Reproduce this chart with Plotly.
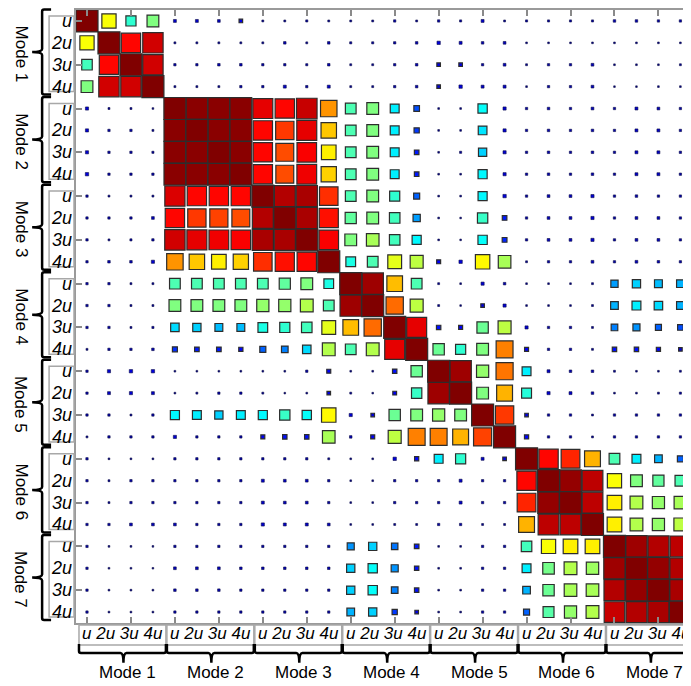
import plotly.graph_objects as go

# ---------------- data ----------------
modes = ["Mode 1", "Mode 2", "Mode 3", "Mode 4", "Mode 5", "Mode 6", "Mode 7"]
harmonics = ["u", "2u", "3u", "4u"]

m1_u  = [1.0, 0.62, 0.42, 0.5, 0.07, 0.07, 0.06, 0.1, 0.02, 0.02, 0.03, 0.02, 0.02, 0.02, 0.04, 0.02, 0.04, 0.03, 0.07, 0.02, 0.03, 0.03, 0.03, 0.03, 0.05, 0.05, 0.04, 0.04]
m1_2u = [0.62, 1.0, 0.87, 0.92, 0.02, 0.02, 0.02, 0.02, 0.02, 0.05, 0.02, 0.05, 0.03, 0.03, 0.04, 0.05, 0.09, 0.07, 0.05, 0.06, 0.01, 0.01, 0.01, 0.01, 0.01, 0.01, 0.01, 0.01]
m1_3u = [0.44, 0.87, 1.0, 0.92, 0.04, 0.04, 0.05, 0.05, 0.04, 0.04, 0.03, 0.05, 0.02, 0.02, 0.04, 0.05, 0.1, 0.1, 0.04, 0.06, 0.02, 0.04, 0.04, 0.06, 0.01, 0.01, 0.01, 0.02]
m1_4u = [0.5, 0.92, 0.92, 1.0, 0.02, 0.02, 0.02, 0.04, 0.04, 0.07, 0.04, 0.07, 0.02, 0.02, 0.04, 0.05, 0.1, 0.09, 0.07, 0.07, 0.01, 0.04, 0.04, 0.06, 0.005, 0.005, 0.01, 0.01]
m2_u  = [0.08, 0.02, 0.02, 0.01, 1.0, 0.99, 0.99, 0.99, 0.9, 0.87, 0.93, 0.73, 0.45, 0.5, 0.36, 0.2, 0.01, 0.01, 0.38, 0.08, 0.04, 0.05, 0.04, 0.06, 0.04, 0.07, 0.06, 0.04]
m2_2u = [0.08, 0.04, 0.04, 0.02, 0.99, 1.0, 0.99, 0.99, 0.87, 0.82, 0.9, 0.68, 0.45, 0.5, 0.36, 0.18, 0.01, 0.01, 0.35, 0.08, 0.04, 0.05, 0.04, 0.05, 0.04, 0.07, 0.07, 0.04]
m2_3u = [0.08, 0.04, 0.04, 0.03, 0.99, 0.99, 1.0, 0.99, 0.87, 0.8, 0.88, 0.64, 0.45, 0.5, 0.36, 0.15, 0.01, 0.03, 0.33, 0.08, 0.04, 0.05, 0.04, 0.05, 0.04, 0.07, 0.07, 0.04]
m2_4u = [0.09, 0.04, 0.04, 0.04, 0.99, 0.99, 0.99, 1.0, 0.87, 0.8, 0.89, 0.67, 0.45, 0.5, 0.36, 0.15, 0.01, 0.01, 0.37, 0.08, 0.04, 0.05, 0.04, 0.05, 0.04, 0.07, 0.07, 0.04]
m3_u  = [0.04, 0.02, 0.02, 0.02, 0.91, 0.87, 0.87, 0.87, 1.0, 0.95, 0.96, 0.83, 0.45, 0.5, 0.42, 0.22, 0.01, 0.01, 0.37, 0.09, 0.04, 0.06, 0.06, 0.08, 0.04, 0.05, 0.04, 0.04]
m3_2u = [0.04, 0.04, 0.04, 0.06, 0.87, 0.82, 0.81, 0.8, 0.95, 1.0, 0.96, 0.86, 0.47, 0.5, 0.44, 0.28, 0.01, 0.005, 0.43, 0.15, 0.04, 0.06, 0.06, 0.08, 0.04, 0.06, 0.06, 0.04]
m3_3u = [0.04, 0.02, 0.03, 0.04, 0.92, 0.9, 0.89, 0.88, 0.96, 0.96, 1.0, 0.88, 0.5, 0.54, 0.44, 0.37, 0.01, 0.005, 0.38, 0.16, 0.04, 0.06, 0.06, 0.08, 0.04, 0.06, 0.06, 0.04]
m3_4u = [0.04, 0.05, 0.05, 0.08, 0.73, 0.68, 0.64, 0.67, 0.83, 0.86, 0.87, 1.0, 0.4, 0.45, 0.6, 0.56, 0.12, 0.09, 0.63, 0.54, 0.02, 0.04, 0.04, 0.06, 0.04, 0.06, 0.05, 0.04]
m4_u  = [0.04, 0.04, 0.02, 0.02, 0.45, 0.45, 0.45, 0.45, 0.45, 0.47, 0.5, 0.4, 1.0, 0.97, 0.69, 0.45, 0.02, 0.01, 0.08, 0.05, 0.01, 0.01, 0.01, 0.02, 0.28, 0.33, 0.31, 0.3]
m4_2u = [0.04, 0.04, 0.02, 0.02, 0.5, 0.5, 0.5, 0.5, 0.52, 0.52, 0.55, 0.45, 0.97, 1.0, 0.77, 0.56, 0.02, 0.005, 0.1, 0.08, 0.01, 0.01, 0.01, 0.02, 0.3, 0.36, 0.34, 0.3]
m4_3u = [0.04, 0.04, 0.02, 0.03, 0.34, 0.33, 0.31, 0.31, 0.4, 0.42, 0.44, 0.6, 0.69, 0.77, 1.0, 0.9, 0.14, 0.12, 0.48, 0.56, 0.08, 0.04, 0.04, 0.02, 0.25, 0.27, 0.22, 0.2]
m4_4u = [0.02, 0.04, 0.04, 0.05, 0.17, 0.15, 0.15, 0.13, 0.22, 0.25, 0.34, 0.55, 0.45, 0.55, 0.9, 1.0, 0.48, 0.42, 0.5, 0.75, 0.12, 0.04, 0.04, 0.02, 0.14, 0.14, 0.13, 0.1]
m5_u  = [0.04, 0.08, 0.09, 0.09, 0.01, 0.01, 0.01, 0.01, 0.01, 0.01, 0.04, 0.12, 0.01, 0.01, 0.14, 0.48, 1.0, 0.97, 0.52, 0.76, 0.36, 0.07, 0.05, 0.05, 0.02, 0.01, 0.01, 0.02]
m5_2u = [0.04, 0.07, 0.08, 0.07, 0.01, 0.02, 0.04, 0.04, 0.02, 0.005, 0.01, 0.1, 0.02, 0.005, 0.11, 0.43, 0.97, 1.0, 0.5, 0.7, 0.41, 0.08, 0.07, 0.05, 0.01, 0.01, 0.02, 0.03]
m5_3u = [0.04, 0.04, 0.02, 0.04, 0.37, 0.36, 0.33, 0.36, 0.37, 0.43, 0.38, 0.63, 0.08, 0.1, 0.48, 0.5, 0.52, 0.5, 1.0, 0.82, 0.1, 0.04, 0.04, 0.02, 0.04, 0.04, 0.04, 0.04]
m5_4u = [0.02, 0.04, 0.04, 0.04, 0.08, 0.04, 0.04, 0.04, 0.12, 0.14, 0.14, 0.54, 0.05, 0.12, 0.56, 0.75, 0.75, 0.7, 0.81, 1.0, 0.13, 0.04, 0.04, 0.02, 0.04, 0.04, 0.04, 0.04]
m6_u  = [0.04, 0.01, 0.01, 0.01, 0.04, 0.04, 0.04, 0.04, 0.04, 0.04, 0.04, 0.02, 0.01, 0.01, 0.09, 0.13, 0.36, 0.42, 0.07, 0.1, 1.0, 0.87, 0.84, 0.7, 0.45, 0.36, 0.3, 0.22]
m6_2u = [0.04, 0.02, 0.04, 0.04, 0.04, 0.04, 0.04, 0.04, 0.07, 0.06, 0.06, 0.04, 0.01, 0.01, 0.04, 0.04, 0.04, 0.07, 0.04, 0.04, 0.87, 1.0, 0.98, 0.94, 0.62, 0.5, 0.47, 0.45]
m6_3u = [0.04, 0.02, 0.04, 0.04, 0.04, 0.04, 0.04, 0.04, 0.07, 0.06, 0.06, 0.04, 0.01, 0.01, 0.04, 0.04, 0.04, 0.07, 0.04, 0.04, 0.84, 0.98, 1.0, 0.94, 0.64, 0.55, 0.52, 0.54]
m6_4u = [0.04, 0.04, 0.06, 0.06, 0.06, 0.04, 0.04, 0.04, 0.08, 0.07, 0.07, 0.06, 0.01, 0.01, 0.02, 0.02, 0.04, 0.04, 0.02, 0.02, 0.7, 0.94, 0.94, 1.0, 0.64, 0.55, 0.52, 0.56]
m7_u  = [0.04, 0.01, 0.01, 0.005, 0.04, 0.04, 0.04, 0.04, 0.04, 0.04, 0.04, 0.04, 0.27, 0.33, 0.24, 0.15, 0.01, 0.01, 0.04, 0.04, 0.44, 0.62, 0.64, 0.64, 1.0, 0.97, 0.95, 0.94]
m7_2u = [0.04, 0.01, 0.01, 0.005, 0.06, 0.06, 0.06, 0.05, 0.05, 0.05, 0.05, 0.05, 0.33, 0.38, 0.27, 0.14, 0.01, 0.01, 0.04, 0.04, 0.36, 0.49, 0.55, 0.53, 0.97, 1.0, 0.98, 0.95]
m7_3u = [0.04, 0.01, 0.01, 0.01, 0.05, 0.05, 0.05, 0.04, 0.04, 0.04, 0.04, 0.04, 0.33, 0.38, 0.25, 0.14, 0.01, 0.01, 0.04, 0.04, 0.3, 0.48, 0.54, 0.54, 0.95, 0.98, 1.0, 0.96]
m7_4u = [0.04, 0.01, 0.01, 0.01, 0.04, 0.04, 0.04, 0.04, 0.04, 0.04, 0.04, 0.04, 0.3, 0.33, 0.18, 0.1, 0.01, 0.01, 0.04, 0.04, 0.22, 0.46, 0.52, 0.55, 0.93, 0.95, 0.96, 1.0]

matrix = [m1_u, m1_2u, m1_3u, m1_4u, m2_u, m2_2u, m2_3u, m2_4u,
          m3_u, m3_2u, m3_3u, m3_4u, m4_u, m4_2u, m4_3u, m4_4u,
          m5_u, m5_2u, m5_3u, m5_4u, m6_u, m6_2u, m6_3u, m6_4u,
          m7_u, m7_2u, m7_3u, m7_4u]

# ---------------- layout geometry (page pixels; body has an 8px margin) ----------------
OFF = 8
W, H = 691 - OFF, 686 - OFF
P_LEFT, P_TOP, P_BOTTOM = 76, 8, 623          # plot area in page pixels
PW = 691 - P_LEFT
PH = P_BOTTOM - P_TOP
CELL_X = 22.05
N = len(modes) * len(harmonics)
CELL_Y = PH / N


def px(xp):
    return (xp - P_LEFT) / PW


def py(yp):
    return (P_BOTTOM - yp) / PH


jet = [[0.0, "rgb(0,0,130)"], [0.125, "rgb(0,0,255)"], [0.375, "rgb(0,255,255)"],
       [0.625, "rgb(255,255,0)"], [0.875, "rgb(255,0,0)"], [1.0, "rgb(128,0,0)"]]

pts = []
for r, row in enumerate(matrix):
    for c, v in enumerate(row):
        pts.append((v, c + 1, r + 1))
pts.sort()
vals = [p[0] for p in pts]
xs = [p[1] for p in pts]
ys = [p[2] for p in pts]
sizes = [1.5 + 20.5 * v for v in vals]
lw = [1.2 if v >= 0.1 else 0.6 for v in vals]
lc = ["rgb(45,45,45)" if v >= 0.1 else "rgb(15,15,70)" for v in vals]

fig = go.Figure(go.Scatter(
    x=xs, y=ys, mode="markers", hoverinfo="skip",
    marker=dict(symbol="square", size=sizes, color=vals, cmin=0, cmax=1, opacity=1,
                colorscale=jet, line=dict(color=lc, width=lw)),
))

ticks = list(range(1, N + 1, 2))
axis_common = dict(showgrid=False, zeroline=False, showticklabels=False,
                   ticks="inside", ticklen=6, tickwidth=1.5, tickcolor="#8a8a8a",
                   tickvals=ticks, showline=True, linecolor="#9a9a9a",
                   linewidth=2, mirror="ticks")

fig.update_layout(
    width=W, height=H,
    margin=dict(l=P_LEFT - OFF, r=0, t=P_TOP - OFF, b=H - (P_BOTTOM - OFF)),
    paper_bgcolor="white", plot_bgcolor="white", showlegend=False,
    xaxis=dict(range=[0.5, 0.5 + PW / CELL_X], **axis_common),
    yaxis=dict(range=[N + 0.5, 0.5], **axis_common),
    font=dict(family="Liberation Sans, Arial, sans-serif", color="black"),
)

shapes = []
annotations = []
mode_h = 4 * CELL_Y
mode_w = 4 * CELL_X
for k, name in enumerate(modes):
    top = P_TOP + k * mode_h
    bot = top + mode_h
    # row-label box
    shapes.append(dict(type="rect", xref="paper", yref="paper",
                       x0=px(49), x1=px(74), y0=py(top + 6), y1=py(bot - 6),
                       line=dict(color="#a8a8a8", width=1.5), fillcolor="rgba(0,0,0,0)"))
    for h, lab in enumerate(harmonics):
        annotations.append(dict(xref="paper", yref="y", x=px(74), y=4 * k + h + 1,
                                xanchor="right", yanchor="middle", showarrow=False,
                                text=f"<i>{lab}</i>", font=dict(size=18)))
    # left brace
    xr, xl, xp = 51, 42, 32
    t0, b0 = top - 0.5, bot - 3
    mid = (t0 + b0) / 2
    path = (f"M {px(xr)},{py(t0)} L {px(xl+2)},{py(t0)} Q {px(xl)},{py(t0)} {px(xl)},{py(t0+2)} "
            f"L {px(xl)},{py(mid-3)} Q {px(xl)},{py(mid)} {px(xp)},{py(mid)} "
            f"Q {px(xl)},{py(mid)} {px(xl)},{py(mid+3)} "
            f"L {px(xl)},{py(b0-2)} Q {px(xl)},{py(b0)} {px(xl+2)},{py(b0)} L {px(xr)},{py(b0)}")
    shapes.append(dict(type="path", xref="paper", yref="paper", path=path,
                       line=dict(color="black", width=2.5)))
    annotations.append(dict(xref="paper", yref="paper", x=px(21), y=py((top + bot) / 2),
                            text=name, textangle=90, showarrow=False,
                            xanchor="center", yanchor="middle", font=dict(size=17)))

    # bottom column-label box
    left = P_LEFT + k * mode_w
    right = left + mode_w
    shapes.append(dict(type="rect", xref="paper", yref="paper",
                       x0=px(left + 3), x1=px(right + 2), y0=py(625), y1=py(645),
                       line=dict(color="#a8a8a8", width=1.5), fillcolor="rgba(0,0,0,0)"))
    annotations.append(dict(xref="paper", yref="paper", x=px((left + right) / 2 + 3), y=py(634),
                            text="<i>" + " ".join(harmonics) + "</i>", showarrow=False,
                            xanchor="center", yanchor="middle", font=dict(size=17)))
    # bottom brace
    bl, br = left + 3, right + 2
    cx = (bl + br) / 2 + 1
    yt, yl, yp = 644, 653, 663
    path = (f"M {px(bl)},{py(yt)} L {px(bl)},{py(yl-2)} Q {px(bl)},{py(yl)} {px(bl+2)},{py(yl)} "
            f"L {px(cx-3)},{py(yl)} Q {px(cx)},{py(yl)} {px(cx)},{py(yp)} "
            f"Q {px(cx)},{py(yl)} {px(cx+3)},{py(yl)} "
            f"L {px(br-2)},{py(yl)} Q {px(br)},{py(yl)} {px(br)},{py(yl-2)} L {px(br)},{py(yt)}")
    shapes.append(dict(type="path", xref="paper", yref="paper", path=path,
                       line=dict(color="black", width=2.5)))
    annotations.append(dict(xref="paper", yref="paper", x=px(cx + 4), y=py(673),
                            text=name, showarrow=False, xanchor="center", yanchor="middle",
                            font=dict(size=17)))

fig.update_layout(shapes=shapes, annotations=annotations)
fig.write_html("out.html")
